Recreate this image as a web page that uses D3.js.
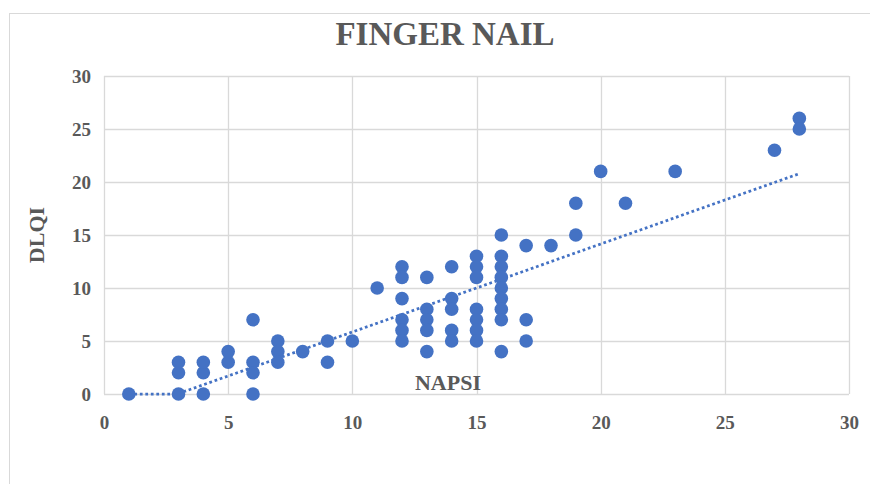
<!DOCTYPE html>
<meta charset="utf-8">
<head>
    <title>Finger Nail - NAPSI vs DLQI</title>
    <script src="https://d3js.org/d3.v7.min.js"></script>
</head>

<style>
body { margin: 0; background: #ffffff; }
text { font-family: "Liberation Serif", "Times New Roman", serif; font-weight: bold; fill: #595959; }
</style>

<body>

<svg></svg>

<script>

// NAPSI score of each patient
let napsi = [
  1,
  3, 3, 3,
  4, 4, 4,
  5, 5,
  6, 6, 6, 6,
  7, 7, 7,
  8,
  9, 9,
  10,
  11,
  12, 12, 12, 12, 12, 12,
  13, 13, 13, 13, 13,
  14, 14, 14, 14, 14,
  15, 15, 15, 15, 15, 15, 15,
  16, 16, 16, 16, 16, 16, 16, 16, 16,
  17, 17, 17,
  18,
  19, 19,
  20,
  21,
  23,
  27,
  28, 28
];

// DLQI score of each patient (same order)
let dlqi = [
  0,
  0, 2, 3,
  0, 2, 3,
  3, 4,
  7, 3, 2, 0,
  5, 4, 3,
  4,
  5, 3,
  5,
  10,
  12, 11, 9, 7, 6, 5,
  11, 8, 7, 6, 4,
  12, 9, 8, 6, 5,
  13, 12, 11, 8, 7, 6, 5,
  15, 13, 12, 11, 10, 9, 8, 7, 4,
  14, 7, 5,
  14,
  18, 15,
  21,
  18,
  21,
  23,
  26, 25
];

let xTicks = [0, 5, 10, 15, 20, 25, 30];
let yTicks = [0, 5, 10, 15, 20, 25, 30];

// linear trendline (y = slope * x + intercept)
let trendSlope = 0.83;
let trendIntercept = -2.45;

let points = napsi.map((d, i) => [d, dlqi[i]]);

// set the dimensions and margins of the graph
let W = 870, H = 484;
let margin = {top: 76, right: 21, bottom: 90, left: 104};
let width = W - margin.left - margin.right;
let height = H - margin.top - margin.bottom;

let x = d3.scaleLinear().domain([0, 30]).range([0, width]);
let y = d3.scaleLinear().domain([0, 30]).range([height, 0]);

let svgRoot = d3.select("svg")
    .attr("width", W)
    .attr("height", H);

// chart area outline
svgRoot.append("rect")
  .attr("x", 9.5)
  .attr("y", 13.5)
  .attr("width", 900)
  .attr("height", 600)
  .attr("fill", "none")
  .attr("stroke", "#d9d9d9")
  .attr("stroke-width", 1);

// title
svgRoot.append("text")
  .attr("x", 445)
  .attr("y", 45)
  .attr("text-anchor", "middle")
  .style("font-size", "33px")
  .text("FINGER NAIL");

let svg = svgRoot.append("g")
    .attr("transform", "translate(" + margin.left + "," + margin.top + ")");

// gridlines
svg.append("g")
  .selectAll("line.vg")
  .data(xTicks)
  .enter()
  .append("line")
  .attr("x1", d => Math.round(x(d)) + 0.5)
  .attr("x2", d => Math.round(x(d)) + 0.5)
  .attr("y1", 0)
  .attr("y2", height)
  .attr("stroke", "#d9d9d9")
  .attr("stroke-width", 1.3);

svg.append("g")
  .selectAll("line.hg")
  .data(yTicks)
  .enter()
  .append("line")
  .attr("x1", 0)
  .attr("x2", width)
  .attr("y1", d => Math.round(y(d)) + 0.5)
  .attr("y2", d => Math.round(y(d)) + 0.5)
  .attr("stroke", "#d9d9d9")
  .attr("stroke-width", 1.3);

// x axis labels
let xAxis = svg.append("g")
  .attr("transform", "translate(0," + height + ")")
  .call(d3.axisBottom(x).tickValues(xTicks).tickSize(0).tickPadding(22));
xAxis.select(".domain").remove();
xAxis.selectAll("text")
  .style("font-size", "19px")
  .style("font-family", "'Liberation Serif', serif")
  .attr("fill", "#595959");

// y axis labels
let yAxis = svg.append("g")
  .call(d3.axisLeft(y).tickValues(yTicks).tickSize(0).tickPadding(13));
yAxis.select(".domain").remove();
yAxis.selectAll("text")
  .style("font-size", "19px")
  .style("font-family", "'Liberation Serif', serif")
  .attr("fill", "#595959");

// axis titles
svg.append("text")
  .attr("x", 344)
  .attr("y", height - 4)
  .attr("text-anchor", "middle")
  .style("font-size", "22px")
  .text("NAPSI");

svg.append("text")
  .attr("transform", "translate(" + (-60) + "," + (height / 2) + ") rotate(-90)")
  .attr("text-anchor", "middle")
  .style("font-size", "22px")
  .text("DLQI");

// trendline over the data range, clamped at the y = 0 axis
let x0 = d3.min(napsi), x1 = d3.max(napsi);
let root = -trendIntercept / trendSlope;
let trendX = [x0];
if (root > x0 && root < x1) trendX.push(root);
trendX.push(x1);

let line = d3.line()
  .x(d => x(d))
  .y(d => y(Math.max(0, trendIntercept + trendSlope * d)));

svg.append("path")
  .datum(trendX)
  .attr("d", line)
  .attr("fill", "none")
  .attr("stroke", "#4472c4")
  .attr("stroke-width", 2.75)
  .attr("stroke-dasharray", "2.75 2.75");

// scatter points
svg.selectAll(".dot")
  .data(points)
  .enter()
  .append("circle")
  .attr("class", "dot")
  .attr("cx", d => x(d[0]))
  .attr("cy", d => y(d[1]))
  .attr("r", 6.8)
  .attr("fill", "#4472c4");

</script>

</body>
